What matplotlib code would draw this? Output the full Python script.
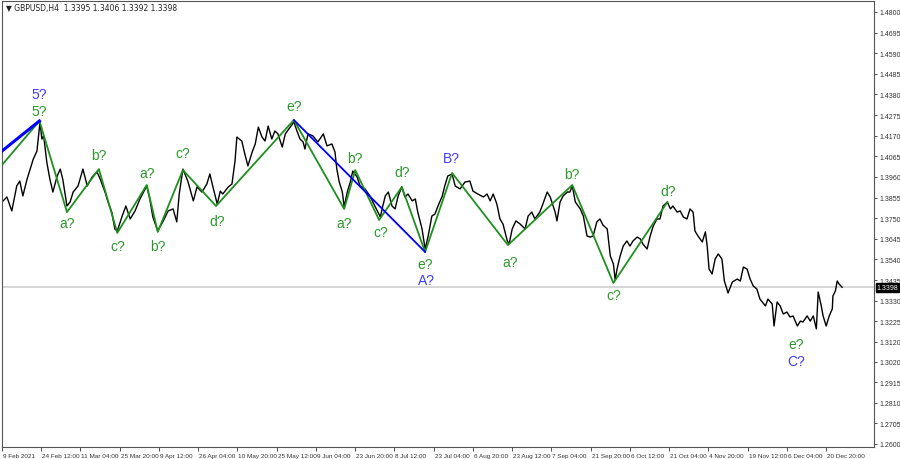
import matplotlib
matplotlib.use('Agg')
import matplotlib.pyplot as plt
import matplotlib.transforms as mtransforms

# GBPUSD H4, x = bar number (weekends skipped, as in the terminal)
bars = [0, 8, 16, 24, 29, 34, 41, 46, 51, 57, 62, 65, 68, 73, 78, 83, 90, 95, 99, 106,
        111, 116, 124, 132, 139, 147, 155, 160, 168, 173, 179, 184, 188, 196, 202, 209, 217, 225, 236, 241,
        246, 254, 263, 271, 279, 285, 289, 295, 303, 312, 318, 326, 334, 339, 344, 351, 356, 360, 369, 375,
        380, 383, 391, 396, 401, 408, 413, 418, 424, 429, 434, 440, 445, 450, 457, 462, 470, 476, 481, 486,
        491, 494, 499, 507, 515, 524, 530, 538, 543, 546, 550, 555, 558, 563, 568, 572, 579, 584, 592, 600,
        608, 617, 621, 625, 630, 636, 641, 646, 652, 657, 662, 669, 674, 678, 685, 690, 695, 701, 706, 711,
        718, 722, 727, 734, 739, 747, 755, 763, 768, 776, 785, 791, 796, 801, 807, 812, 817, 824, 827, 832,
        838, 845, 853, 858, 864, 869, 877, 882, 889, 894, 902, 905, 910, 915, 922, 926, 930, 935, 943, 948,
        954, 959, 964, 970, 975, 980, 987, 992, 997, 1000, 1003, 1008, 1013, 1019, 1024, 1029, 1036, 1041, 1045, 1052,
        1057, 1062, 1068, 1073, 1078, 1085, 1090, 1094, 1101, 1106, 1111, 1117, 1122, 1127, 1130, 1135, 1142, 1147, 1150, 1153,
        1158, 1163, 1168, 1174, 1178, 1184, 1191, 1199, 1204, 1209, 1215, 1220, 1225, 1231, 1236, 1245, 1249, 1256, 1259, 1264,
        1269, 1274, 1280, 1285, 1290, 1297, 1302, 1306, 1313, 1318, 1323, 1328, 1331, 1336, 1339, 1344, 1349, 1354, 1355, 1359,
        1362, 1365, 1370]
prices = [1.3832, 1.3858, 1.3787, 1.3914, 1.3939, 1.3863, 1.3950, 1.4000, 1.4051, 1.4092, 1.4240, 1.4153, 1.4169, 1.4036, 1.3950, 1.3883, 1.3965, 1.4000, 1.3950, 1.3812,
          1.3832, 1.3883, 1.3914, 1.4000, 1.3914, 1.3960, 1.3985, 1.3950, 1.3883, 1.3832, 1.3781, 1.3695, 1.3685, 1.3761, 1.3812, 1.3746, 1.3787, 1.3848, 1.3914, 1.3848,
          1.3756, 1.3685, 1.3736, 1.3787, 1.3797, 1.3731, 1.3873, 1.4000, 1.3939, 1.3838, 1.3909, 1.3883, 1.3924, 1.3975, 1.3909, 1.3822, 1.3888, 1.3873, 1.3909, 1.3924,
          1.4041, 1.4163, 1.4143, 1.4077, 1.4016, 1.4087, 1.4128, 1.4214, 1.4163, 1.4143, 1.4219, 1.4153, 1.4194, 1.4179, 1.4112, 1.4179, 1.4214, 1.4240, 1.4194, 1.4153,
          1.4138, 1.4102, 1.4179, 1.4169, 1.4138, 1.4179, 1.4118, 1.4128, 1.4087, 1.4000, 1.3934, 1.3883, 1.3807, 1.3883, 1.3934, 1.3990, 1.3960, 1.3914, 1.3899, 1.3863,
          1.3812, 1.3756, 1.3812, 1.3863, 1.3883, 1.3812, 1.3797, 1.3863, 1.3909, 1.3858, 1.3873, 1.3838, 1.3848, 1.3781, 1.3695, 1.3593, 1.3659, 1.3761, 1.3771, 1.3812,
          1.3863, 1.3914, 1.3965, 1.3975, 1.3914, 1.3899, 1.3934, 1.3939, 1.3888, 1.3873, 1.3858, 1.3873, 1.3838, 1.3873, 1.3822, 1.3746, 1.3720, 1.3634, 1.3619, 1.3695,
          1.3736, 1.3720, 1.3695, 1.3761, 1.3781, 1.3746, 1.3781, 1.3822, 1.3883, 1.3858, 1.3781, 1.3736, 1.3832, 1.3863, 1.3883, 1.3883, 1.3914, 1.3832, 1.3797, 1.3761,
          1.3659, 1.3654, 1.3659, 1.3731, 1.3746, 1.3715, 1.3695, 1.3557, 1.3517, 1.3435, 1.3491, 1.3557, 1.3608, 1.3634, 1.3608, 1.3634, 1.3654, 1.3644, 1.3619, 1.3593,
          1.3659, 1.3710, 1.3746, 1.3746, 1.3812, 1.3832, 1.3797, 1.3812, 1.3781, 1.3787, 1.3756, 1.3746, 1.3797, 1.3781, 1.3685, 1.3659, 1.3629, 1.3680, 1.3608, 1.3491,
          1.3466, 1.3542, 1.3568, 1.3542, 1.3430, 1.3369, 1.3425, 1.3440, 1.3430, 1.3501, 1.3491, 1.3440, 1.3405, 1.3389, 1.3338, 1.3303, 1.3338, 1.3313, 1.3201, 1.3323,
          1.3303, 1.3262, 1.3272, 1.3247, 1.3252, 1.3201, 1.3226, 1.3221, 1.3252, 1.3226, 1.3252, 1.3186, 1.3374, 1.3303, 1.3252, 1.3201, 1.3252, 1.3288, 1.3354, 1.3379,
          1.3430, 1.3415, 1.3398]

last_price = 1.3398
title = '\u25bc GBPUSD,H4  1.3395 1.3406 1.3392 1.3398'

# wave count lines
green_bars = [0, 61, 106, 158, 188, 236, 254, 295, 349, 476, 558, 576, 615, 652, 690, 734, 825, 930, 997, 1085]
green_prices = [1.4021, 1.4245, 1.3781, 1.4000, 1.3675, 1.3919, 1.3680, 1.3995, 1.3812, 1.4250,
                1.3797, 1.3995, 1.3741, 1.3909, 1.3578, 1.3980, 1.3613, 1.3919, 1.3420, 1.3832]
blue_bars_1 = [0, 61]
blue_prices_1 = [1.4092, 1.4245]
blue_bars_2 = [476, 690]
blue_prices_2 = [1.4250, 1.3578]

# labels: (bar, price, text, colour key, offset in px, + = above)
labels = [
    (61, 1.4245, '5?', 'b', 27), (61, 1.4245, '5?', 'g', 10),
    (106, 1.3781, 'a?', 'g', -11), (158, 1.4000, 'b?', 'g', 14),
    (188, 1.3675, 'c?', 'g', -13), (236, 1.3919, 'a?', 'g', 12),
    (254, 1.3680, 'b?', 'g', -14), (295, 1.3995, 'c?', 'g', 17),
    (351, 1.3812, 'd?', 'g', -15), (476, 1.4250, 'e?', 'g', 14),
    (558, 1.3797, 'a?', 'g', -14), (576, 1.3995, 'b?', 'g', 12),
    (617, 1.3741, 'c?', 'g', -12), (652, 1.3909, 'd?', 'g', 15),
    (690, 1.3578, 'e?', 'g', -12), (692, 1.3578, 'A?', 'b', -28),
    (732, 1.3980, 'B?', 'b', 15), (828, 1.3613, 'a?', 'g', -17),
    (930, 1.3919, 'b?', 'g', 11), (998, 1.3420, 'c?', 'g', -12),
    (1087, 1.3832, 'd?', 'g', 11),
    (1295, 1.3186, 'e?', 'g', -15), (1295, 1.3186, 'C?', 'b', -32),
]

x_tick_labels = ['9 Feb 2021', '24 Feb 12:00', '11 Mar 04:00', '25 Mar 20:00', '9 Apr 12:00',
                 '26 Apr 04:00', '10 May 20:00', '25 May 12:00', '9 Jun 04:00', '23 Jun 20:00',
                 '8 Jul 12:00', '23 Jul 04:00', '6 Aug 20:00', '23 Aug 12:00', '7 Sep 04:00',
                 '21 Sep 20:00', '6 Oct 12:00', '21 Oct 04:00', '4 Nov 20:00', '19 Nov 12:00',
                 '6 Dec 04:00', '20 Dec 20:00']
bars_per_label = 64
y_tick_labels = ['1.4800', '1.4695', '1.4590', '1.4485', '1.4380', '1.4275', '1.4170', '1.4065',
                 '1.3960', '1.3855', '1.3750', '1.3645', '1.3540', '1.3435', '1.3330', '1.3225',
                 '1.3120', '1.3020', '1.2915', '1.2810', '1.2705', '1.2600']

GREEN = '#1f8f1f'
colors = {'g': '#2a9a2a', 'b': '#3c3cff'}
small_font = ['Liberation Sans Narrow', 'Liberation Sans', 'DejaVu Sans']

fig = plt.figure(figsize=(9, 4.6), dpi=100)
ax = fig.add_axes([2 / 900, 12 / 460, 872 / 900, 446 / 460])
ax.set_xlim(0, 1422)
ax.set_ylim(1.25847, 1.4856)

ax.axhline(last_price, color='#cfcfcf', lw=1.2, zorder=1)
ax.plot(bars, prices, color='black', lw=1.0, zorder=2)
ax.plot(green_bars, green_prices, color=GREEN, lw=1.3, zorder=3)
ax.plot(blue_bars_1, blue_prices_1, color='#0000ff', lw=2.2, zorder=3)
ax.plot(blue_bars_2, blue_prices_2, color='#0000ff', lw=1.3, zorder=3)

for b, p, txt, c, off in labels:
    ax.annotate(txt, xy=(b, p), xytext=(0, off * 0.72), textcoords='offset points',
                ha='center', va='center', color=colors[c], fontsize=10,
                family='Liberation Sans', zorder=4)

ax.yaxis.tick_right()
ax.set_yticks([float(s) for s in y_tick_labels])
ax.set_yticklabels(y_tick_labels, family=small_font, fontsize=5.0)
ax.set_xticks([i * bars_per_label for i in range(len(x_tick_labels))])
ax.set_xticklabels(x_tick_labels, ha='left', family=small_font, fontsize=4.6)
ax.tick_params(axis='y', length=2.5, width=0.6, pad=1.5, colors='#333333')
ax.tick_params(axis='x', length=3, width=0.6, pad=1.5, colors='#333333')
offset = mtransforms.ScaledTranslation(1 / 100, 0, fig.dpi_scale_trans)
for lab in ax.get_xticklabels():
    lab.set_transform(lab.get_transform() + offset)

for s in ax.spines.values():
    s.set_color('#555555')
    s.set_linewidth(0.8)

trans = mtransforms.blended_transform_factory(ax.transAxes, ax.transData)
ax.text(1.003, last_price, '%.4f' % last_price, transform=trans, ha='left', va='center',
        fontsize=5.0, family=small_font, color='white',
        bbox=dict(boxstyle='square,pad=0.15', fc='black', ec='black'))

fig.text(6 / 900, 1 - 9 / 460, title, fontsize=5.5, va='center', ha='left', color='#222222')

fig.savefig('out.png', dpi=100, facecolor='white')
